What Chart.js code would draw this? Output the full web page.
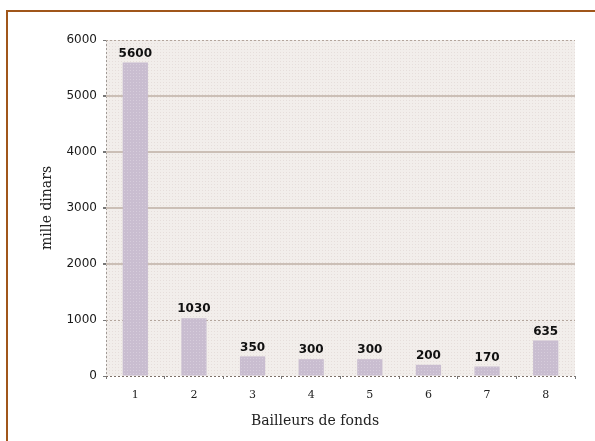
<!DOCTYPE html>
<html>
<head>
<meta charset="utf-8">
<script src="https://cdn.jsdelivr.net/npm/chart.js@4/dist/chart.umd.min.js"></script>
<style>
    html, body { margin: 0; padding: 0; background: #fff; }
    #wrap { position: relative; width: 595px; height: 441px; overflow: hidden; }
    #frame {
        position: absolute; left: 6px; top: 10px; width: 620px; height: 460px;
        border-left: 2px solid #a0561a; border-top: 2px solid #a0561a;
    }
    canvas { position: absolute; left: 0; top: 0; }
</style>
</head>
<body>
<div id="wrap">
    <div id="frame"></div>
    <canvas id="donsChart" width="595" height="441"></canvas>
</div>
<script>
// Montants par bailleur (mille dinars)
const bailleurs = ['1', '2', '3', '4', '5', '6', '7', '8'];
const montants = [5600, 1030, 350, 300, 300, 200, 170, 635];
const graduations = [0, 1000, 2000, 3000, 4000, 5000, 6000];
const lignesPointillees = [0, 1000, 6000];

// Fond tramé de la zone de tracé
function trame(fond, point) {
    const c = document.createElement('canvas');
    c.width = 3; c.height = 3;
    const g = c.getContext('2d');
    g.fillStyle = fond;
    g.fillRect(0, 0, 3, 3);
    g.fillStyle = point;
    g.fillRect(1, 1, 1, 1);
    return g.createPattern(c, 'repeat');
}

const fondZone = {
    id: 'fondZone',
    beforeDraw(chart) {
        const { ctx, chartArea: a } = chart;
        ctx.save();
        ctx.fillStyle = trame('#f2eeeb', '#e6dedb');
        ctx.fillRect(a.left, a.top, a.right - a.left, a.bottom - a.top);
        ctx.restore();
    }
};

// Valeurs écrites au-dessus des barres
const etiquettes = {
    id: 'etiquettes',
    afterDatasetsDraw(chart) {
        const { ctx } = chart;
        const meta = chart.getDatasetMeta(0);
        ctx.save();
        ctx.font = 'bold 12px "DejaVu Sans"';
        ctx.fillStyle = '#111';
        ctx.textAlign = 'center';
        ctx.textBaseline = 'bottom';
        meta.data.forEach((bar, i) => {
            ctx.fillText(String(montants[i]), bar.x, bar.y - 3);
        });
        ctx.restore();
    }
};

// Titre de l'axe horizontal
const titreX = {
    id: 'titreX',
    afterDraw(chart) {
        const { ctx } = chart;
        ctx.save();
        ctx.font = '14px "DejaVu Serif"';
        ctx.fillStyle = '#222';
        ctx.textAlign = 'center';
        ctx.textBaseline = 'middle';
        ctx.fillText('Bailleurs de fonds', 315, 421);
        ctx.restore();
    }
};

const estPointillee = (c) => c.tick && lignesPointillees.includes(c.tick.value);

new Chart(document.getElementById('donsChart').getContext('2d'), {
    type: 'bar',
    data: {
        labels: bailleurs,
        datasets: [{
            data: montants,
            backgroundColor: trame('#c9bdd0', '#d6ccdb'),
            borderWidth: 0,
            barPercentage: 0.43,
            categoryPercentage: 1
        }]
    },
    options: {
        responsive: false,
        animation: false,
        layout: { padding: { left: 39, right: 20, top: 40, bottom: 0 } },
        plugins: { legend: { display: false }, tooltip: { enabled: false } },
        scales: {
            x: {
                afterFit(scale) { scale.height = 65; },
                grid: {
                    offset: true,
                    // seule la ligne de gauche (axe vertical) est tracée, en pointillé
                    color: (c) => c.index === 0 ? '#a09a96' : 'rgba(0,0,0,0)',
                    lineWidth: 1,
                    tickLength: 3,
                    tickColor: '#777'
                },
                border: { display: false, dash: [2, 2] },
                ticks: { padding: 10, color: '#222', font: { family: 'DejaVu Serif', size: 11 } }
            },
            y: {
                min: 0,
                max: 6000,
                afterFit(scale) { scale.width = 67; },
                afterBuildTicks(scale) { scale.ticks = graduations.map(v => ({ value: v })); },
                grid: {
                    color: (c) => c.tick && c.tick.value === 0 ? '#7d7068'
                        : estPointillee(c) ? '#b3a59c' : '#cbbfb6',
                    lineWidth: (c) => estPointillee(c) ? 1 : 2,
                    tickLength: 3,
                    tickColor: '#777'
                },
                border: {
                    display: false,
                    dash: (c) => estPointillee(c) ? [2, 2] : []
                },
                ticks: {
                    padding: 6,
                    color: '#1a1a1a',
                    font: { family: 'DejaVu Sans', size: 12 },
                    callback: (v) => String(v)
                },
                title: {
                    display: true,
                    text: 'mille dinars',
                    color: '#222',
                    padding: { top: 0, bottom: 4 },
                    font: { family: 'DejaVu Serif', size: 14 }
                }
            }
        }
    },
    plugins: [fondZone, etiquettes, titreX]
});
</script>
</body>
</html>
